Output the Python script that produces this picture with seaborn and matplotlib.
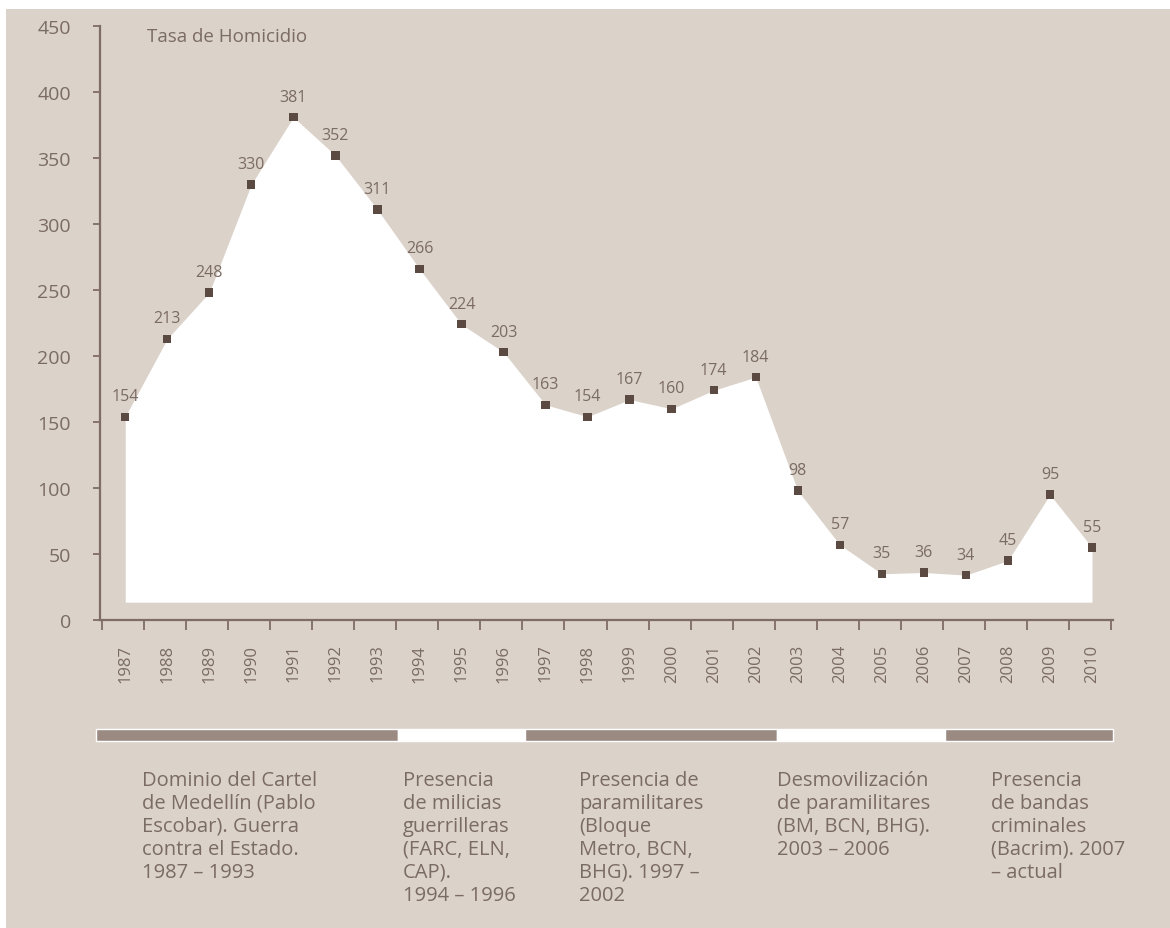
import numpy as np
import pandas as pd
import matplotlib
matplotlib.use("Agg")
import matplotlib.pyplot as plt
import matplotlib.transforms as mtransforms
import seaborn as sns

years = [str(y) for y in range(1987, 2011)]
tasa = [154, 213, 248, 330, 381, 352, 311, 266, 224, 203, 163, 154,
        167, 160, 174, 184, 98, 57, 35, 36, 34, 45, 95, 55]

period_start = ["1987", "1994", "1997", "2003", "2007"]
period_end = ["1993", "1996", "2002", "2006", "2010"]
period_dark = [True, False, True, False, True]
period_text = [
    "Dominio del Cartel\nde Medellín (Pablo\nEscobar). Guerra\ncontra el Estado.\n1987 – 1993",
    "Presencia\nde milicias\nguerrilleras\n(FARC, ELN,\nCAP).\n1994 – 1996",
    "Presencia de\nparamilitares\n(Bloque\nMetro, BCN,\nBHG). 1997 –\n2002",
    "Desmovilización\nde paramilitares\n(BM, BCN, BHG).\n2003 – 2006",
    "Presencia\nde bandas\ncriminales\n(Bacrim). 2007\n– actual",
]
note_x = [0.4, 6.6, 10.8, 15.5, 20.6]

BG = "#dbd2ca"
DARK = "#5b4a42"
AXC = "#7d6d64"
TXT = "#7a6b63"
BAND = "#9b8a82"

df = pd.DataFrame({"year": years, "tasa": tasa})
df["pos"] = np.arange(len(df))

sns.set_style("ticks")
plt.rcParams["font.family"] = ["Open Sans", "DejaVu Sans"]

fig = plt.figure(figsize=(11.7, 9.29), dpi=100, facecolor="white")

# beige background panel
bg = fig.add_axes([6 / 1170, 0, 1 - 6 / 1170, 1 - 10 / 929], zorder=-10)
bg.set_facecolor(BG)
bg.set_xticks([])
bg.set_yticks([])
for s in bg.spines.values():
    s.set_visible(False)

ax = fig.add_axes([100 / 1170, 308 / 929, 1013 / 1170, 594 / 929])
ax.set_facecolor("none")

# white area under the series
ax.fill_between(df["pos"], 13.5, df["tasa"], color="white", linewidth=0, zorder=1)
sns.scatterplot(data=df, x="pos", y="tasa", marker="s", s=36, color=DARK,
                edgecolor="none", ax=ax, zorder=3)
for p, v in zip(df["pos"], df["tasa"]):
    ax.annotate(str(v), (p, v), xytext=(0, 9), textcoords="offset points",
                ha="center", va="bottom", fontsize=11.5, color=TXT)

ax.set_xlim(-0.6, 23.5)
ax.set_ylim(0, 450)
ax.set_yticks(range(0, 451, 50))
ax.tick_params(axis="y", labelsize=14, labelcolor=TXT, color=AXC, length=5,
               width=1.3, pad=16)
ax.set_xticks(np.arange(-0.55, 23.5, 1))
ax.set_xticklabels([])
ax.set_xticks(df["pos"], minor=True)
ax.set_xticklabels(years, minor=True, rotation=90)
ax.tick_params(axis="x", which="major", direction="out", length=7, width=1.3, color=AXC)
ax.tick_params(axis="x", which="minor", length=0, pad=17, labelsize=12, labelcolor=TXT)
for lab in ax.get_xticklabels(minor=True):
    lab.set_va("top")
sns.despine(ax=ax)
for s in ["left", "bottom"]:
    ax.spines[s].set_color(AXC)
    ax.spines[s].set_linewidth(1.6)
ax.set_xlabel("")
ax.set_ylabel("")
ax.text(0.046, 0.999, "Tasa de Homicidio", transform=ax.transAxes, ha="left",
        va="top", fontsize=13.5, color=TXT)

# period bands and notes
bx = fig.add_axes([100 / 1170, 187 / 929, 1013 / 1170, 12 / 929])
bx.set_xlim(ax.get_xlim())
bx.set_ylim(0, 1)
bx.axis("off")
n = len(period_start)
for i in range(n):
    a = years.index(period_start[i]) - 0.5
    b = years.index(period_end[i]) + 0.5
    if i == 0:
        a = -0.7
    if i == n - 1:
        b = 23.5
    bx.broken_barh([(a, b - a)], (0, 1), facecolors=BAND if period_dark[i] else "white",
                   clip_on=False)

trans = mtransforms.blended_transform_factory(ax.transData, fig.transFigure)
for x, t in zip(note_x, period_text):
    ax.text(x, (929 - 771) / 929, t, transform=trans, ha="left", va="top",
            fontsize=14.5, color=TXT, linespacing=1.2, clip_on=False)

fig.savefig("out.png", dpi=100, facecolor=fig.get_facecolor())
